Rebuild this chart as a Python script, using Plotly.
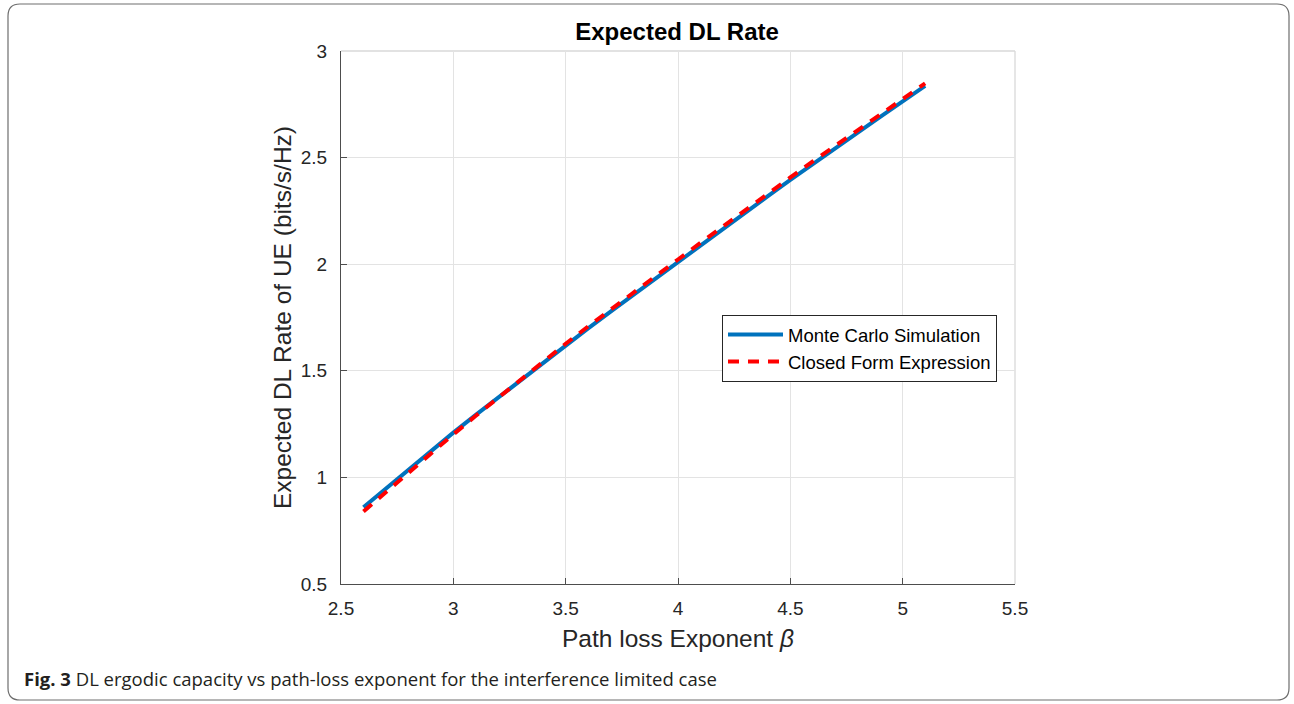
import plotly.graph_objects as go

beta = [2.6, 2.7, 2.8, 2.9, 3.0, 3.1, 3.2, 3.3, 3.4, 3.5, 3.6, 3.7, 3.8, 3.9,
        4.0, 4.1, 4.2, 4.3, 4.4, 4.5, 4.6, 4.7, 4.8, 4.9, 5.0, 5.1]
monte_carlo = [0.860, 0.948, 1.036, 1.123, 1.210, 1.293, 1.375, 1.457, 1.539, 1.620,
               1.699, 1.778, 1.856, 1.933, 2.010, 2.088, 2.166, 2.243, 2.319, 2.395,
               2.470, 2.544, 2.618, 2.691, 2.764, 2.836]
closed_form = [0.840, 0.932, 1.023, 1.113, 1.202, 1.289, 1.375, 1.460, 1.544, 1.627,
               1.708, 1.788, 1.867, 1.945, 2.022, 2.100, 2.178, 2.255, 2.331, 2.407,
               2.482, 2.556, 2.630, 2.703, 2.776, 2.848]
x_ticks = [2.5, 3, 3.5, 4, 4.5, 5, 5.5]
y_ticks = [0.5, 1, 1.5, 2, 2.5, 3]

W, H = 1294, 704
L, R, T, B = 341, 1015, 51, 584

def px(x):
    return (x - L) / (R - L)

def py(y):
    return (B - y) / (B - T)

fig = go.Figure()
fig.add_trace(go.Scatter(x=beta, y=monte_carlo, mode="lines", name="Monte Carlo Simulation",
                         line=dict(color="#0072BD", width=4)))
fig.add_trace(go.Scatter(x=beta, y=closed_form, mode="lines", name="Closed Form Expression",
                         line=dict(color="#FF0000", width=4, dash="11px,9px")))

font_main = "Liberation Sans, Arial, Helvetica, sans-serif"

# rounded outer border
x0, x1, y0, y1, r = px(8), px(1289), py(4), py(700), 12
rx = r / (R - L)
ry = r / (B - T)
path = (f"M {x0+rx},{y0} L {x1-rx},{y0} Q {x1},{y0} {x1},{y0-ry} "
        f"L {x1},{y1+ry} Q {x1},{y1} {x1-rx},{y1} L {x0+rx},{y1} "
        f"Q {x0},{y1} {x0},{y1+ry} L {x0},{y0-ry} Q {x0},{y0} {x0+rx},{y0} Z")

fig.update_layout(
    width=W, height=H,
    margin=dict(l=L, r=W - R, t=T, b=H - B),
    paper_bgcolor="white", plot_bgcolor="white",
    font=dict(family=font_main, color="#262626"),
    title=dict(text="<b>Expected DL Rate</b>", x=px(677), xref="paper", y=1 - 32 / H,
               yanchor="middle", xanchor="center", font=dict(size=24, color="black")),
    xaxis=dict(range=[2.5, 5.5], tickvals=x_ticks, ticktext=[f"{v:g}" for v in x_ticks],
               showgrid=True, gridcolor="#e3e3e3", gridwidth=1, zeroline=False,
               showline=True, linecolor="#4d4d4d", linewidth=1.3,
               ticks="inside", ticklen=6, tickcolor="#4d4d4d", ticklabelstandoff=7,
               tickfont=dict(size=19, color="#262626"),
               title=dict(text="Path loss Exponent <i>β</i>", font=dict(size=24.5, color="#262626"),
                          standoff=11)),
    yaxis=dict(range=[0.5, 3], tickvals=y_ticks, ticktext=[f"{v:g}" for v in y_ticks],
               showgrid=True, gridcolor="#e3e3e3", gridwidth=1, zeroline=False,
               showline=True, linecolor="#4d4d4d", linewidth=1.3,
               ticks="inside", ticklen=6, tickcolor="#4d4d4d", ticklabelstandoff=9,
               tickfont=dict(size=19, color="#262626"),
               title=dict(text="Expected DL Rate of UE (bits/s/Hz)", font=dict(size=24.5, color="#262626"),
                          standoff=2)),
    legend=dict(x=px(722), y=py(315), xanchor="left", yanchor="top",
                bgcolor="white", bordercolor="#262626", borderwidth=1, itemwidth=55,
                font=dict(size=18.5, color="black"), tracegroupgap=0),
    shapes=[
        dict(type="line", xref="paper", yref="paper", x0=0, x1=1, y0=1, y1=1,
             line=dict(color="#d9d9d9", width=1.3), layer="below"),
        dict(type="line", xref="paper", yref="paper", x0=1, x1=1, y0=0, y1=1,
             line=dict(color="#d9d9d9", width=1.3), layer="below"),
        dict(type="path", xref="paper", yref="paper", path=path,
             line=dict(color="#6e6e6e", width=1.2), fillcolor="rgba(0,0,0,0)"),
    ],
    annotations=[
        dict(text="<b>Fig. 3</b> DL ergodic capacity vs path-loss exponent for the interference limited case",
             xref="paper", yref="paper", x=px(22), y=py(678), xanchor="left", yanchor="middle",
             showarrow=False, font=dict(family="Open Sans, Noto Sans, sans-serif", size=18.5, color="#231f20")),
    ],
)

fig.write_html("out.html", config={"displayModeBar": False},
               post_script="document.body.style.margin='0';document.body.style.overflow='hidden';")
